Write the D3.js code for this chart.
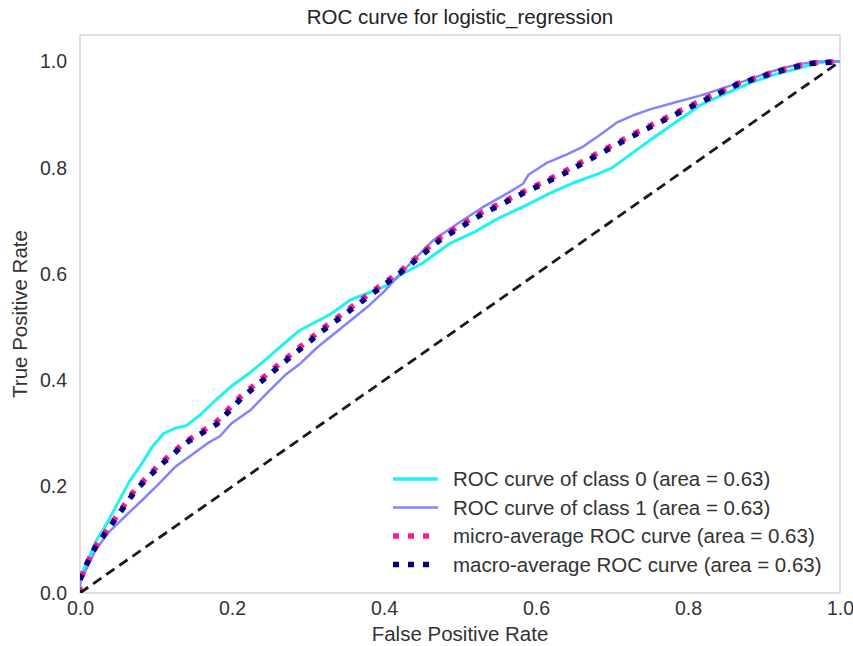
<!DOCTYPE html>
<html>
<head>
<meta charset="utf-8">
<script src="https://cdn.jsdelivr.net/npm/d3@7"></script>
<style>
  html, body { margin: 0; padding: 0; background: #ffffff; }
  svg { display: block; font-family: "Liberation Sans", Arial, sans-serif; }
</style>
</head>
<body>
<svg id="chart" width="853" height="646"></svg>
<script>
// ---- data ----
const titleText = "ROC curve for logistic_regression";
const xLabel = "False Positive Rate";
const yLabel = "True Positive Rate";
const xTicks = [0.0, 0.2, 0.4, 0.6, 0.8, 1.0];
const yTicks = [0.0, 0.2, 0.4, 0.6, 0.8, 1.0];

const class0FPR = [0, 0, 0.01, 0.02, 0.035, 0.05, 0.065, 0.082, 0.095, 0.11, 0.125, 0.14, 0.158, 0.18, 0.2, 0.224, 0.245, 0.265, 0.289, 0.31, 0.33, 0.355, 0.38, 0.404, 0.421, 0.45, 0.487, 0.52, 0.553, 0.585, 0.618, 0.65, 0.684, 0.7, 0.75, 0.8, 0.816, 0.85, 0.882, 0.915, 0.947, 0.97, 0.983, 1];
const class0TPR = [0, 0.03, 0.06, 0.095, 0.13, 0.17, 0.21, 0.245, 0.275, 0.3, 0.31, 0.315, 0.335, 0.365, 0.39, 0.415, 0.44, 0.465, 0.494, 0.51, 0.525, 0.551, 0.565, 0.579, 0.598, 0.62, 0.658, 0.68, 0.707, 0.728, 0.752, 0.772, 0.79, 0.8, 0.852, 0.902, 0.918, 0.94, 0.96, 0.976, 0.988, 0.997, 1.0, 1];

const class1FPR = [0, 0, 0.01, 0.02, 0.037, 0.06, 0.082, 0.1, 0.125, 0.145, 0.168, 0.184, 0.2, 0.225, 0.246, 0.27, 0.29, 0.312, 0.345, 0.378, 0.4, 0.421, 0.44, 0.465, 0.5, 0.53, 0.56, 0.583, 0.59, 0.615, 0.64, 0.662, 0.684, 0.706, 0.73, 0.75, 0.78, 0.816, 0.85, 0.882, 0.905, 0.925, 0.95, 0.97, 1];
const class1TPR = [0, 0.02, 0.05, 0.08, 0.113, 0.145, 0.175, 0.2, 0.237, 0.258, 0.282, 0.295, 0.32, 0.345, 0.376, 0.41, 0.432, 0.462, 0.5, 0.538, 0.567, 0.6, 0.628, 0.664, 0.698, 0.726, 0.75, 0.77, 0.787, 0.81, 0.825, 0.84, 0.862, 0.885, 0.9, 0.91, 0.922, 0.936, 0.952, 0.967, 0.979, 0.988, 0.996, 1.0, 1];

const microFPR = [0, 0, 0.005, 0.02, 0.046, 0.072, 0.103, 0.138, 0.178, 0.21, 0.263, 0.316, 0.372, 0.421, 0.474, 0.526, 0.579, 0.632, 0.684, 0.737, 0.803, 0.864, 0.912, 0.957, 1];
const microTPR = [0, 0.02, 0.043, 0.087, 0.14, 0.194, 0.24, 0.284, 0.32, 0.368, 0.432, 0.494, 0.554, 0.605, 0.669, 0.714, 0.752, 0.789, 0.83, 0.87, 0.917, 0.958, 0.98, 0.997, 1];

const macroFPR = [0, 0, 0.006, 0.021, 0.047, 0.073, 0.104, 0.139, 0.18, 0.212, 0.265, 0.318, 0.374, 0.422, 0.476, 0.528, 0.58, 0.634, 0.686, 0.738, 0.804, 0.865, 0.913, 0.958, 1];
const macroTPR = [0, 0.025, 0.047, 0.088, 0.14, 0.193, 0.238, 0.282, 0.318, 0.366, 0.43, 0.492, 0.552, 0.603, 0.667, 0.712, 0.75, 0.787, 0.828, 0.868, 0.915, 0.957, 0.979, 0.996, 1];

const chanceFPR = [0, 1];
const chanceTPR = [0, 1];

const seriesNames = [
  "ROC curve of class 0 (area = 0.63)",
  "ROC curve of class 1 (area = 0.63)",
  "micro-average ROC curve (area = 0.63)",
  "macro-average ROC curve (area = 0.63)"
];
const seriesColors = ["#1ef2f2", "#8383ff", "#ff1a8c", "#000080"];

// ---- layout ----
const svg = d3.select("#chart");
const margin = { left: 80, right: 13, top: 35, bottom: 53 };
const W = 853, H = 646;
const x = d3.scaleLinear().domain([0, 1]).range([margin.left, W - margin.right]);
const y = d3.scaleLinear().domain([0, 1.05]).range([H - margin.bottom, margin.top]);

const textColor = "#333333";
const labelSize = 20.5;

// plot frame
svg.append("rect")
  .attr("x", x(0)).attr("y", y(1.05))
  .attr("width", x(1) - x(0)).attr("height", y(0) - y(1.05))
  .attr("fill", "#ffffff").attr("stroke", "#d6d6d6").attr("stroke-width", 1.5);

// axes
const xAxis = d3.axisBottom(x).tickValues(xTicks).tickFormat(d3.format(".1f")).tickSize(0).tickPadding(8);
const yAxis = d3.axisLeft(y).tickValues(yTicks).tickFormat(d3.format(".1f")).tickSize(0).tickPadding(13);

const gx = svg.append("g").attr("transform", `translate(0,${y(0)})`).call(xAxis);
const gy = svg.append("g").attr("transform", `translate(${x(0)},0)`).call(yAxis);
[gx, gy].forEach(g => {
  g.select(".domain").remove();
  g.selectAll("text").attr("font-size", 19.5).attr("fill", textColor)
    .attr("font-family", "'Liberation Sans', Arial, sans-serif");
});

// clip
svg.append("clipPath").attr("id", "clip").append("rect")
  .attr("x", x(0)).attr("y", y(1.05)).attr("width", x(1) - x(0)).attr("height", y(0) - y(1.05));

const plot = svg.append("g").attr("clip-path", "url(#clip)");
const line = d3.line().x(d => x(d[0])).y(d => y(d[1]));
const zip = (a, b) => a.map((v, i) => [v, b[i]]);

plot.append("path").datum(zip(class0FPR, class0TPR))
  .attr("d", line).attr("fill", "none").attr("stroke", seriesColors[0]).attr("stroke-width", 3)
  .attr("stroke-linejoin", "round");
plot.append("path").datum(zip(class1FPR, class1TPR))
  .attr("d", line).attr("fill", "none").attr("stroke", seriesColors[1]).attr("stroke-width", 2.5)
  .attr("stroke-linejoin", "round");
plot.append("path").datum(zip(microFPR, microTPR))
  .attr("d", line).attr("fill", "none").attr("stroke", seriesColors[2]).attr("stroke-width", 5.5)
  .attr("stroke-dasharray", "6,10");
plot.append("path").datum(zip(macroFPR, macroTPR))
  .attr("d", line).attr("fill", "none").attr("stroke", seriesColors[3]).attr("stroke-width", 5.5)
  .attr("stroke-dasharray", "6,10").attr("stroke-dashoffset", 3);
plot.append("path").datum(zip(chanceFPR, chanceTPR))
  .attr("d", line).attr("fill", "none").attr("stroke", "#1a1a1a").attr("stroke-width", 2.8)
  .attr("stroke-dasharray", "10,6");

// legend
const legendX = 393, legendY0 = 479, legendDy = 28.5;
const legendStyles = [
  { w: 3.5, dash: null },
  { w: 2.5, dash: null },
  { w: 5.5, dash: "6,9" },
  { w: 5.5, dash: "6,9" }
];
const lg = svg.append("g");
seriesNames.forEach((name, i) => {
  const ly = legendY0 + i * legendDy;
  const ln = lg.append("line")
    .attr("x1", legendX).attr("x2", legendX + 45)
    .attr("y1", ly).attr("y2", ly)
    .attr("stroke", seriesColors[i]).attr("stroke-width", legendStyles[i].w);
  if (legendStyles[i].dash) ln.attr("stroke-dasharray", legendStyles[i].dash);
  lg.append("text")
    .attr("x", legendX + 60).attr("y", ly).attr("dy", "0.35em")
    .attr("font-size", labelSize).attr("fill", textColor)
    .text(name);
});

// title and axis labels
svg.append("text").attr("x", (x(0) + x(1)) / 2).attr("y", 17).attr("dy", "0.35em")
  .attr("text-anchor", "middle").attr("font-size", labelSize).attr("fill", "#222222").text(titleText);
svg.append("text").attr("x", (x(0) + x(1)) / 2).attr("y", 634).attr("dy", "0.35em")
  .attr("text-anchor", "middle").attr("font-size", labelSize).attr("fill", textColor).text(xLabel);
svg.append("text")
  .attr("transform", `translate(20,${(y(0) + y(1.05)) / 2}) rotate(-90)`)
  .attr("dy", "0.35em").attr("text-anchor", "middle").attr("font-size", labelSize).attr("fill", textColor)
  .text(yLabel);
</script>
</body>
</html>
